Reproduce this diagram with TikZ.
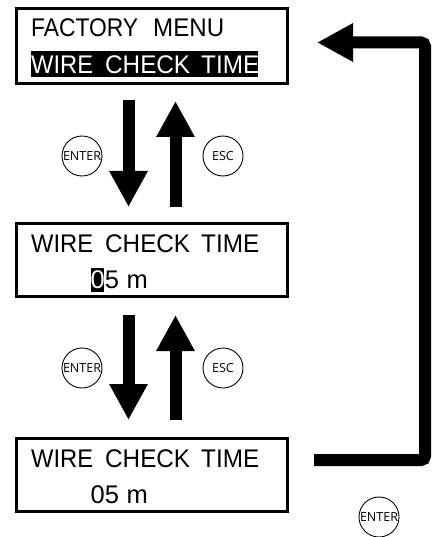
\documentclass[tikz,border=0pt]{standalone}
\usepackage{fontspec}
\setmainfont{Liberation Sans}
\newfontfamily\btnfont{Open Sans}
\usetikzlibrary{arrows.meta}
\newcommand{\sw}[2]{\resizebox{#1}{\height}{#2}}
\begin{document}
\begin{tikzpicture}[x=1pt,y=-1pt,
  lcd/.style={draw, line width=3pt, minimum width=271pt, inner sep=0pt},
  word/.style={anchor=base west, inner sep=0pt, font=\fontsize{25.5pt}{29pt}\selectfont},
  btn/.style={draw, circle, line width=0.9pt, minimum size=40pt, inner sep=0pt, font=\btnfont\fontsize{12.5pt}{14pt}\selectfont},
  fat/.style={line width=12pt, -{Triangle[width=36pt,length=36pt]}},
  hlbox/.style={fill=black, inner sep=0pt},
]
\useasboundingbox (0,0) rectangle (431,537);

% LCD boxes
\node[lcd, minimum height=75pt] (b1) at (152,46) {};
\node[lcd, minimum height=73pt] (b2) at (152,260) {};
\node[lcd, minimum height=73pt] (b3) at (152,475) {};

% box 1
\node[word] (f1) at (31,37) {\sw{107pt}{FACTORY}};
\node[word] (f2) at (153,37) {\sw{71pt}{MENU}};
\node[hlbox, minimum width=227pt, minimum height=26.3pt] (hl1) at (144.35,63.85) {};
\node[word, text=white] (w1a) at (31,74) {\sw{62pt}{WIRE}};
\node[word, text=white] (w1b) at (105,74) {\sw{85pt}{CHECK}};
\node[word, text=white] (w1c) at (201,74) {\sw{58pt}{TIME}};

% box 2
\node[word] (w2a) at (31,252) {\sw{62pt}{WIRE}};
\node[word] (w2b) at (105,252) {\sw{85pt}{CHECK}};
\node[word] (w2c) at (201,252) {\sw{58pt}{TIME}};
\node[hlbox, minimum width=13pt, minimum height=24pt] (hl2) at (97.5,280.2) {};
\node[word] (d2) at (90.5,288) {\textcolor{white}{0}5};
\node[word] (m2) at (126.5,288) {m};

% box 3
\node[word] (w3a) at (31,467) {\sw{62pt}{WIRE}};
\node[word] (w3b) at (105,467) {\sw{85pt}{CHECK}};
\node[word] (w3c) at (201,467) {\sw{58pt}{TIME}};
\node[word] (d3) at (90.5,503) {05};
\node[word] (m3) at (126.5,503) {m};

% buttons
\node[btn] (e1) at (82,156) {ENTER};
\node[btn] (s1) at (223,156) {ESC};
\node[btn] (e2) at (82,368) {ENTER};
\node[btn] (s2) at (223,368) {ESC};
\node[btn] (e3) at (379,517) {ENTER};

% arrow end points
\coordinate (a1) at (128.5,100);
\coordinate (a2) at (128.5,207);
\coordinate (a3) at (175.5,207);
\coordinate (a4) at (175.5,101);
\coordinate (a5) at (128.5,315);
\coordinate (a6) at (128.5,420);
\coordinate (a7) at (175.5,420);
\coordinate (a8) at (175.5,315);
\coordinate (l0) at (314,460);
\coordinate (l1) at (425,460);
\coordinate (l2) at (425,42.5);
\coordinate (l3) at (317,42.5);

\draw[fat] (a1) -- (a2);
\draw[fat] (a3) -- (a4);
\draw[fat] (a5) -- (a6);
\draw[fat] (a7) -- (a8);
\draw[fat, rounded corners=4pt] (l0) -- (l1) -- (l2) -- (l3);
\end{tikzpicture}
\end{document}
